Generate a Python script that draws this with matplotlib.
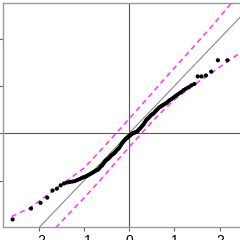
import numpy as np
import matplotlib
matplotlib.use("Agg")
import matplotlib.pyplot as plt

# theoretical quantiles, 100 points: qnorm(ppoints(100))
n_points = 100
probs = (np.arange(1, n_points + 1) - 0.5) / n_points

# sample values, sorted
sample = [
    -1.82, -1.59, -1.47, -1.36, -1.21, -1.17, -1.10, -1.06, -1.04, -1.03,
    -1.02, -1.01, -0.99, -0.97, -0.95, -0.93, -0.92, -0.90, -0.88, -0.86,
    -0.84, -0.82, -0.80, -0.78, -0.77, -0.74, -0.70, -0.68, -0.64, -0.60,
    -0.57, -0.55, -0.53, -0.50, -0.47, -0.45, -0.43, -0.41, -0.38, -0.35,
    -0.33, -0.30, -0.26, -0.22, -0.19, -0.16, -0.13, -0.11, -0.09, -0.07,
    -0.05, -0.03, -0.01, 0.00, 0.01, 0.02, 0.03, 0.05, 0.08, 0.10,
    0.13, 0.16, 0.19, 0.23, 0.27, 0.30, 0.32, 0.35, 0.38, 0.40,
    0.42, 0.45, 0.48, 0.51, 0.54, 0.56, 0.58, 0.60, 0.62, 0.64,
    0.67, 0.70, 0.72, 0.75, 0.78, 0.81, 0.84, 0.87, 0.91, 0.94,
    0.97, 1.01, 1.04, 1.20, 1.20, 1.22, 1.30, 1.54, 1.54, 1.95,
]

# confidence envelope (dashed)
env_x = [-2.6, -2.2, -1.8, -1.4, -1.0, -0.6, -0.2, 0.2, 0.6, 1.0, 1.4, 1.8, 2.2, 2.6]
env_upper = [-1.76, -1.58, -1.30, -1.02, -0.74, -0.33, 0.09, 0.52, 0.95, 1.38, 1.80, 2.23, 2.68, 3.12]
env_lower = [-2.90, -2.55, -2.17, -1.77, -1.37, -0.95, -0.51, -0.08, 0.34, 0.71, 1.00, 1.26, 1.53, 1.79]

xticks = [-2, -1, 0, 1, 2]
yticks = [-1, 0, 1, 2]

# normal quantiles via inverse erf (Acklam-free: use numpy percentiles of erfinv approx)
def qnorm(p):
    # rational approximation (Acklam)
    a = [-3.969683028665376e+01, 2.209460984245205e+02, -2.759285104469687e+02,
         1.383577518672690e+02, -3.066479806614716e+01, 2.506628277459239e+00]
    b = [-5.447609879822406e+01, 1.615858368580409e+02, -1.556989798598866e+02,
         6.680131188771972e+01, -1.328068155288572e+01]
    c = [-7.784894002430293e-03, -3.223964580411365e-01, -2.400758277161838e+00,
         -2.549732539343734e+00, 4.374664141464968e+00, 2.938163982698783e+00]
    d = [7.784695709041462e-03, 3.224671290700398e-01, 2.445134137142996e+00,
         3.754408661907416e+00]
    p = np.asarray(p, dtype=float)
    out = np.empty_like(p)
    lo = p < 0.02425
    hi = p > 1 - 0.02425
    mid = ~(lo | hi)
    q = np.sqrt(-2 * np.log(p[lo]))
    out[lo] = (((((c[0]*q+c[1])*q+c[2])*q+c[3])*q+c[4])*q+c[5]) / ((((d[0]*q+d[1])*q+d[2])*q+d[3])*q+1)
    q = np.sqrt(-2 * np.log(1 - p[hi]))
    out[hi] = -(((((c[0]*q+c[1])*q+c[2])*q+c[3])*q+c[4])*q+c[5]) / ((((d[0]*q+d[1])*q+d[2])*q+d[3])*q+1)
    q = p[mid] - 0.5
    r = q * q
    out[mid] = (((((a[0]*r+a[1])*r+a[2])*r+a[3])*r+a[4])*r+a[5])*q / (((((b[0]*r+b[1])*r+b[2])*r+b[3])*r+b[4])*r+1)
    return out

theo = qnorm(probs)

plt.rcParams['font.family'] = ['Liberation Sans', 'DejaVu Sans']

fig = plt.figure(figsize=(2.4, 2.4), dpi=100)
ax = fig.add_axes([3.4 / 240, 13 / 240, 251.6 / 240, 224 / 240])

ax.axhline(0, color='#555555', lw=0.8, zorder=1)
ax.axvline(0, color='#555555', lw=0.8, zorder=1)
ax.axline((0, 0), slope=1, color='#888888', lw=0.8, zorder=1)

ax.plot(env_x, env_upper, color='#ff33ff', lw=1.1, ls=(0, (3.5, 2.5)), zorder=2)
ax.plot(env_x, env_lower, color='#ff33ff', lw=1.1, ls=(0, (3.5, 2.5)), zorder=2)

ax.scatter(theo, sample, s=9, color='black', edgecolors='none', zorder=3)

ax.set_xlim(-2.78, 2.78)
ax.set_ylim(-1.98, 2.75)
ax.set_xticks(xticks)
ax.set_yticks(yticks)
ax.tick_params(direction='out', length=3, width=0.8, color='#666666',
               labelsize=10, pad=2)
for s in ax.spines.values():
    s.set_color('#999999')
    s.set_linewidth(1.0)

fig.savefig('out.png', dpi=100)
